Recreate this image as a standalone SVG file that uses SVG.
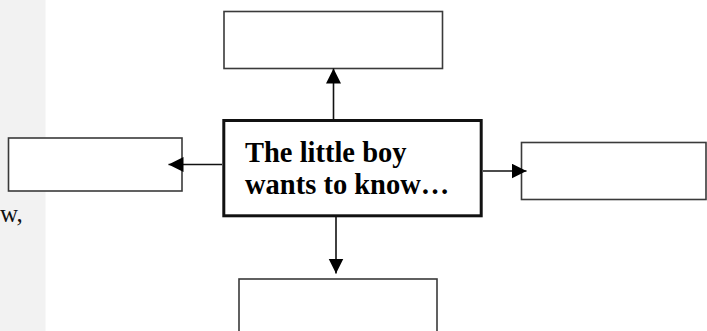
<svg xmlns="http://www.w3.org/2000/svg" width="707" height="331" viewBox="0 0 707 331">
  <style>
    .box { fill: #ffffff; stroke: #3a3a3a; stroke-width: 1.6; }
    .main { fill: #ffffff; stroke: #111111; stroke-width: 3; }
    .conn { stroke: #111111; stroke-width: 1.6; fill: none; marker-end: url(#arrow); }
    .label { font-family: "Liberation Serif", "Times New Roman", serif; font-weight: bold; font-size: 28.5px; fill: #000000; }
    .side { font-family: "Liberation Serif", "Times New Roman", serif; font-size: 25px; fill: #111111; }
  </style>
  <defs>
    <marker id="arrow" markerUnits="userSpaceOnUse" markerWidth="16" markerHeight="16" refX="15" refY="7.5" orient="auto">
      <path d="M0,0 L15,7.5 L0,15 z" fill="#000000"/>
    </marker>
  </defs>
  <rect x="0" y="0" width="45.5" height="331" fill="#f2f2f2"/>
  <text class="side" x="0" y="222">w,</text>

  <g id="node-top">
    <rect class="box" x="224" y="11.5" width="218.5" height="57"/>
  </g>
  <g id="node-left">
    <rect class="box" x="8.5" y="138" width="173.5" height="53"/>
  </g>
  <g id="node-right">
    <rect class="box" x="521.5" y="142.5" width="184.5" height="57"/>
  </g>
  <g id="node-bottom">
    <rect class="box" x="239" y="279" width="198" height="60"/>
  </g>

  <g id="connectors">
    <line class="conn" x1="333.5" y1="119" x2="333.5" y2="68.5"/>
    <line class="conn" x1="222" y1="164.5" x2="168.5" y2="164.5"/>
    <line class="conn" x1="483" y1="171" x2="526.5" y2="171"/>
    <line class="conn" x1="336" y1="217" x2="336" y2="273.5"/>
  </g>

  <g id="node-center">
    <rect class="main" x="223.8" y="120.5" width="257.4" height="95.3"/>
    <text class="label" x="245" y="162">The little boy</text>
    <text class="label" x="245" y="193.5">wants to know…</text>
  </g>
</svg>
